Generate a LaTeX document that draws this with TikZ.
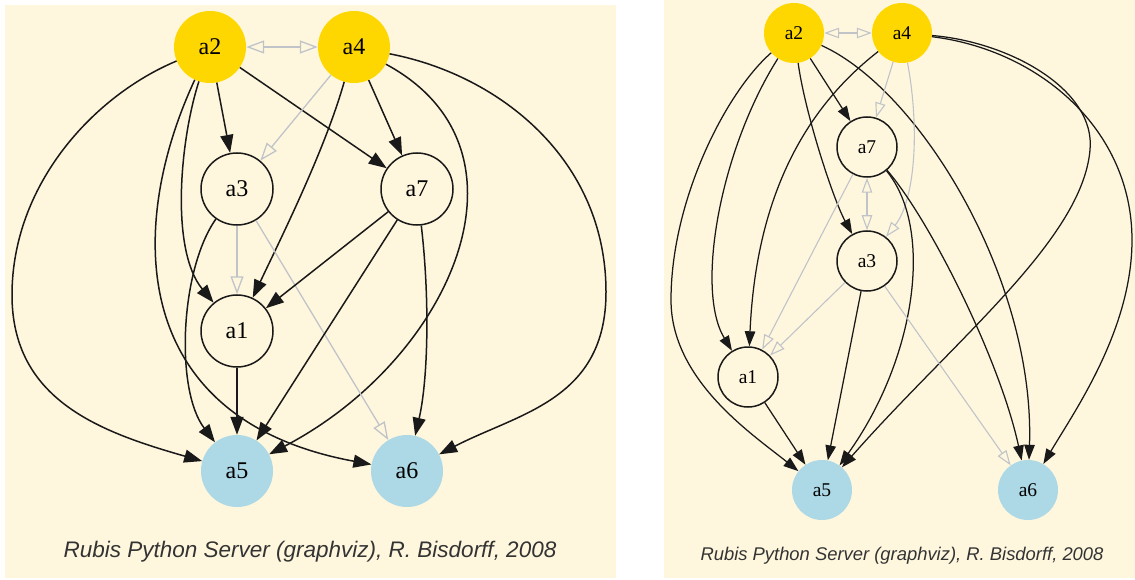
\documentclass[tikz,border=0pt]{standalone}
\usepackage{fontspec}
\setmainfont{Liberation Serif}
\newfontfamily\capfont{Liberation Sans}
\usetikzlibrary{arrows.meta}
\definecolor{cornsilk}{RGB}{254,247,222}
\definecolor{goldnode}{RGB}{255,215,0}
\definecolor{bluenode}{RGB}{173,216,230}
\definecolor{edgegray}{RGB}{192,196,200}

\begin{document}
\begin{tikzpicture}[x=1pt,y=-1pt,
    big/.style={circle,inner sep=0pt,minimum size=72pt,font=\fontsize{24}{26}\selectfont},
    small/.style={circle,inner sep=0pt,minimum size=60pt,font=\fontsize{19.5}{21}\selectfont},
    yellowfill/.style={fill=goldnode},
    bluefill/.style={fill=bluenode},
    ringed/.style={draw=black!90,line width=1.5pt},
    lblack/.style={-{Triangle[length=18pt,width=13pt]},line width=1.5pt,draw=black!90},
    lgray/.style={-{Triangle[open,length=18pt,width=13pt]},line width=1.3pt,draw=edgegray},
    lgraytwo/.style={{Triangle[open,length=18pt,width=13pt]}-{Triangle[open,length=18pt,width=13pt]},line width=1.3pt,draw=edgegray},
    rblack/.style={-{Triangle[length=15pt,width=10.5pt]},line width=1.25pt,draw=black!90},
    rgray/.style={-{Triangle[open,length=15pt,width=10.5pt]},line width=1.1pt,draw=edgegray},
    rgraytwo/.style={{Triangle[open,length=15pt,width=10.5pt]}-{Triangle[open,length=15pt,width=10.5pt]},line width=1.1pt,draw=edgegray},
    caption/.style={text=black!80,font=\capfont\itshape}]
  \useasboundingbox (0,0) rectangle (1135,580);
  \fill[white] (0,0) rectangle (1135,580);
  \fill[cornsilk] (5,5) rectangle (616,578);
  \fill[cornsilk] (664,0) rectangle (1135,578);

  % left graph
  \node[big,yellowfill] (La2) at (210,47) {a2};
  \node[big,yellowfill] (La4) at (354,47) {a4};
  \node[big,ringed] (La3) at (237,189) {a3};
  \node[big,ringed] (La7) at (417,189) {a7};
  \node[big,ringed] (La1) at (237,331) {a1};
  \node[big,bluefill] (La5) at (237,471) {a5};
  \node[big,bluefill] (La6) at (407,471) {a6};

  \draw[lgraytwo] (La2) -- (La4);
  \draw[lblack] (La2) -- (La3);
  \draw[lblack] (La2) -- (La7);
  \draw[lblack] (La2) .. controls (180,140) and (170,250) .. (La1);
  \draw[lblack] (La2) .. controls (93,96) and (12,185) .. (12,295) .. controls (12,400) and (100,432) .. (La5);
  \draw[lblack] (La2) .. controls (125,230) and (130,420) .. (La6);
  \draw[lgray] (La4) -- (La3);
  \draw[lblack] (La4) -- (La7);
  \draw[lblack] (La4) .. controls (325,150) and (280,240) .. (La1);
  \draw[lblack] (La4) .. controls (545,150) and (450,360) .. (La5);
  \draw[lblack] (La4) .. controls (500,75) and (606,160) .. (606,292) .. controls (606,400) and (519,413) .. (La6);
  \draw[lgray] (La3) -- (La1);
  \draw[lgray] (La3) -- (La6);
  \draw[lblack] (La3) .. controls (180,270) and (175,390) .. (La5);
  \draw[lblack] (La7) -- (La1);
  \draw[lblack] (La7) -- (La5);
  \draw[lblack] (La7) .. controls (430,300) and (428,380) .. (La6);
  \draw[lblack] (La1) -- (La5);

  \node[caption,font=\capfont\itshape\fontsize{22.5}{24}\selectfont] (Lcap) at (310,552) {Rubis Python Server (graphviz), R. Bisdorff, 2008};

  % right graph
  \node[small,yellowfill] (Ra2) at (794,33) {a2};
  \node[small,yellowfill] (Ra4) at (902,33) {a4};
  \node[small,ringed] (Ra7) at (867,147) {a7};
  \node[small,ringed] (Ra3) at (867,261) {a3};
  \node[small,ringed] (Ra1) at (748,377) {a1};
  \node[small,bluefill] (Ra5) at (822,490) {a5};
  \node[small,bluefill] (Ra6) at (1028,490) {a6};

  \draw[rgraytwo] (Ra2) -- (Ra4);
  \draw[rblack] (Ra2) -- (Ra7);
  \draw[rblack] (Ra2) .. controls (805,113) and (833,199) .. (Ra3);
  \draw[rblack] (Ra2) .. controls (726,92) and (671,200) .. (671,300) .. controls (671,380) and (752,434) .. (Ra5);
  \draw[rblack] (Ra2) .. controls (720,150) and (695,290) .. (Ra1);
  \draw[rblack] (Ra2) .. controls (920,90) and (1035,280) .. (Ra6);
  \draw[rgray] (Ra4) -- (Ra7);
  \draw[rgray] (Ra4) .. controls (920,130) and (915,200) .. (Ra3);
  \draw[rblack] (Ra4) .. controls (790,120) and (755,220) .. (Ra1);
  \draw[rblack] (Ra4) .. controls (1010,42) and (1096,90) .. (1090,150) .. controls (1082,240) and (954,340) .. (Ra5);
  \draw[rblack] (Ra4) .. controls (1040,50) and (1132,130) .. (1132,240) .. controls (1132,330) and (1074,412) .. (Ra6);
  \draw[rgraytwo] (Ra7) -- (Ra3);
  \draw[rgray] (Ra7) -- (Ra1);
  \draw[rgray] (Ra3) -- (Ra1);
  \draw[rblack] (Ra7) .. controls (935,230) and (915,360) .. (Ra5);
  \draw[rblack] (Ra7) .. controls (930,220) and (1000,360) .. (Ra6);
  \draw[rblack] (Ra3) -- (Ra5);
  \draw[rgray] (Ra3) -- (Ra6);
  \draw[rblack] (Ra1) -- (Ra5);

  \node[caption,font=\capfont\itshape\fontsize{18.4}{20}\selectfont] (Rcap) at (902,556) {Rubis Python Server (graphviz), R. Bisdorff, 2008};
\end{tikzpicture}
\end{document}
